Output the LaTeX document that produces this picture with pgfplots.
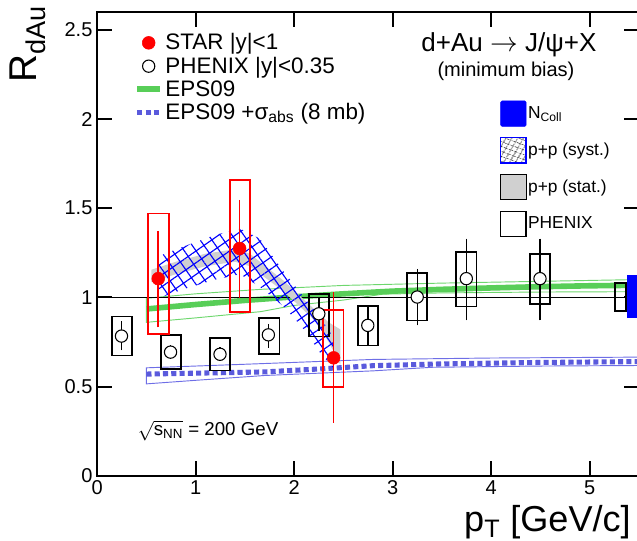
\documentclass[border=0pt]{standalone}
\usepackage{fontspec}
\setmainfont{Liberation Sans}
\usepackage{pgfplots}
\pgfplotsset{compat=1.18}
\usetikzlibrary{patterns.meta}
\definecolor{epsgreen}{RGB}{88,206,88}
\definecolor{epsthin}{RGB}{110,215,110}
\definecolor{absblue}{RGB}{90,90,220}
\definecolor{absthin}{RGB}{110,110,230}
\definecolor{ppgray}{RGB}{208,208,208}
\begin{document}
\begin{tikzpicture}
\begin{axis}[
  scale only axis, width=405.75pt, height=347.25pt,
  xmin=0, xmax=5.5, ymin=0, ymax=2.6,
  xtick={0,1,2,3,4,5}, ytick={0,0.5,1,1.5,2,2.5},
  tick align=inside, major tick length=11pt,
  axis line style={line width=1.5pt},
  every tick/.style={black, line width=1.5pt},
  tick label style={font=\fontsize{15}{16}\selectfont},
  /pgf/number format/assume math mode=true,
  ylabel={R\textsubscript{dAu}},
  ylabel style={font=\fontsize{29}{30}\selectfont, at={(axis description cs:-0.161,1.015)}, anchor=north east, inner sep=0pt},
  xlabel={p\textsubscript{T} [GeV/c]},
  xlabel style={font=\fontsize{27}{28}\selectfont, at={(axis description cs:0.985,-0.063)}, anchor=north east, inner sep=0pt},
  legend style={at={(axis description cs:0.061,0.965)}, anchor=north west, draw=none, fill=none,
    font=\fontsize{16.8}{18}\selectfont, row sep=0pt, nodes={inner sep=1.9pt}},
  legend cell align=left,
]
% legend images
\addlegendimage{only marks, mark=*, mark size=4.8pt, red}
\addlegendentry{STAR |y|<1}
\addlegendimage{only marks, mark=o, mark size=4.6pt, black, line width=0.8pt}
\addlegendentry{PHENIX |y|<0.35}
\addlegendimage{epsgreen, line width=4.2pt}
\addlegendentry{EPS09}
\addlegendimage{absblue, line width=3.8pt, dash pattern=on 3.8pt off 2.4pt}
\addlegendentry{EPS09 +σ\textsubscript{abs} (8 mb)}

% EPS09 band
\addplot[epsthin, line width=0.7pt, forget plot] coordinates {
 (0.5,0.995) (1.0,1.02) (1.66,1.045) (2.5,1.067) (3.5,1.08) (4.5,1.09) (5.5,1.10)
 (5.5,1.032) (4.5,1.03) (3.5,1.025) (2.9,1.018) (2.5,0.985) (2.0,0.955) (1.66,0.92) (1.0,0.885) (0.5,0.86)} -- cycle;
\addplot[epsgreen, line width=4.2pt, forget plot] coordinates {
 (0.5,0.935) (1.0,0.96) (1.5,0.983) (2.0,1.003) (2.5,1.02) (3.0,1.035) (3.5,1.045) (4.0,1.053) (4.5,1.06) (5.0,1.065) (5.5,1.068)};
% EPS09 + sigma_abs band
\addplot[absthin, line width=0.7pt, forget plot] coordinates {
 (0.5,0.605) (1.5,0.625) (2.8,0.652) (4.0,0.66) (5.5,0.665)
 (5.5,0.618) (4.5,0.615) (3.4,0.608) (2.8,0.588) (1.7,0.562) (1.0,0.535) (0.5,0.515)} -- cycle;
\addplot[absblue, line width=3.8pt, dash pattern=on 3.8pt off 2.4pt, forget plot] coordinates {
 (0.5,0.57) (1.0,0.575) (1.7,0.582) (2.3,0.60) (2.8,0.617) (3.5,0.627) (4.5,0.635) (5.5,0.64)};
% y = 1
\addplot[black, line width=1.2pt, forget plot] coordinates {(0,1) (5.5,1)};
% p+p stat band (gray)
\addplot[fill=ppgray, draw=none, forget plot] coordinates {
 (0.55,1.155) (0.8,1.20) (1.1,1.245) (1.4,1.27) (1.55,1.245) (1.9,1.09) (2.23,0.92) (2.35,0.86) (2.47,0.82)
 (2.47,0.62) (2.35,0.75) (2.23,0.86) (1.9,1.03) (1.55,1.175) (1.4,1.20) (1.1,1.175) (0.8,1.13) (0.55,1.085)} -- cycle;
% p+p syst band (hatched)
\addplot[draw=none, pattern={Lines[angle=35,distance=7.2pt,line width=0.85pt]}, pattern color=blue,
  postaction={pattern={Lines[angle=-55,distance=7.2pt,line width=0.85pt]}, pattern color=blue}, forget plot] coordinates {
 (0.62,1.23) (0.9,1.29) (1.2,1.35) (1.45,1.385) (1.65,1.33) (1.9,1.14) (2.1,1.00) (2.25,0.90) (2.4,0.775)
 (2.4,0.60) (2.25,0.70) (2.1,0.82) (1.9,0.945) (1.65,1.06) (1.45,1.13) (1.2,1.10) (0.9,1.05) (0.62,0.995)} -- cycle;

% global boxes
\addplot[fill=blue, draw=none, forget plot] coordinates {(5.375,0.884) (5.5,0.884) (5.5,1.124) (5.375,1.124)} -- cycle;
\addplot[black, line width=1.3pt, forget plot] coordinates {(5.254,0.923) (5.37,0.923) (5.37,1.08) (5.254,1.08)} -- cycle;

% PHENIX syst boxes
\addplot[black, line width=1.3pt, forget plot] coordinates {(0.149,0.674) (0.352,0.674) (0.352,0.893) (0.149,0.893)} -- cycle;
\addplot[black, line width=1.3pt, forget plot] coordinates {(0.647,0.599) (0.850,0.599) (0.850,0.788) (0.647,0.788)} -- cycle;
\addplot[black, line width=1.3pt, forget plot] coordinates {(1.148,0.590) (1.352,0.590) (1.352,0.773) (1.148,0.773)} -- cycle;
\addplot[black, line width=1.3pt, forget plot] coordinates {(1.646,0.684) (1.850,0.684) (1.850,0.884) (1.646,0.884)} -- cycle;
\addplot[black, line width=1.3pt, forget plot] coordinates {(2.147,0.780) (2.350,0.780) (2.350,1.020) (2.147,1.020)} -- cycle;
\addplot[black, line width=1.3pt, forget plot] coordinates {(2.645,0.730) (2.848,0.730) (2.848,0.951) (2.645,0.951)} -- cycle;
\addplot[black, line width=1.3pt, forget plot] coordinates {(3.147,0.871) (3.350,0.871) (3.350,1.137) (3.147,1.137)} -- cycle;
\addplot[black, line width=1.3pt, forget plot] coordinates {(3.646,0.949) (3.850,0.949) (3.850,1.255) (3.646,1.255)} -- cycle;
\addplot[black, line width=1.3pt, forget plot] coordinates {(4.393,0.961) (4.597,0.961) (4.597,1.245) (4.393,1.245)} -- cycle;
% PHENIX points
\addplot[black, only marks, mark=*, mark size=4.6pt, line width=0.8pt,
  mark options={fill=white}, forget plot,
  error bars/.cd, y dir=both, y explicit,
  error bar style={line width=1.1pt, black},
  error mark options={black, line width=1.1pt, mark size=2.4pt}] coordinates {
 (0.247,0.783) += (0,0.065) -= (0,0.062)
 (0.745,0.693) += (0,0.02) -= (0,0.02)
 (1.247,0.681) += (0,0.02) -= (0,0.02)
 (1.738,0.790) += (0,0.043) -= (0,0.054)
 (2.250,0.908) += (0,0.075) -= (0,0.080)
 (2.747,0.843) += (0,0.093) -= (0,0.094)
 (3.249,1.002) += (0,0.140) -= (0,0.141)
 (3.747,1.105) += (0,0.206) -= (0,0.216)
 (4.495,1.105) += (0,0.206) -= (0,0.216)
};

% STAR syst boxes
\addplot[red, line width=1.4pt, forget plot] coordinates {(0.520,0.796) (0.730,0.796) (0.730,1.470) (0.520,1.470)} -- cycle;
\addplot[red, line width=1.4pt, forget plot] coordinates {(1.345,0.917) (1.548,0.917) (1.548,1.657) (1.345,1.657)} -- cycle;
\addplot[red, line width=1.4pt, forget plot] coordinates {(2.290,0.496) (2.500,0.496) (2.500,0.931) (2.290,0.931)} -- cycle;
% STAR points
\addplot[red, only marks, mark=*, mark size=4.8pt, forget plot,
  error bars/.cd, y dir=both, y explicit,
  error bar style={line width=1.2pt, red},
  error mark options={red, line width=1.2pt, mark size=2.2pt}] coordinates {
 (0.620,1.105) += (0,0.252) -= (0,0.257)
 (1.446,1.274) += (0,0.256) -= (0,0.263)
 (2.400,0.661) += (0,0.354) -= (0,0.348)
};

% texts
\node[font=\fontsize{19.5}{20}\selectfont] at (axis cs:4.18,2.416) {d+Au $\rightarrow$ J/ψ+X};
\node[font=\fontsize{15}{16}\selectfont] at (axis cs:4.15,2.27) {(minimum bias)};
\node[font=\fontsize{14}{15}\selectfont, anchor=west, inner sep=0pt] at (axis cs:0.41,0.253)
  {$\sqrt{\mbox{s}_{\mbox{\fontsize{10}{11}\selectfont NN}}}$ = 200 GeV};

\coordinate (BL) at (rel axis cs:-0.1793,-0.1404);
\coordinate (TR) at (rel axis cs:0.9963,1.0259);
\end{axis}

\begin{axis}[
  scale only axis, width=405.75pt, height=347.25pt,
  xmin=0, xmax=5.5, ymin=0, ymax=2.6, hide axis,
  legend style={at={(axis description cs:0.7357,0.815)}, anchor=north west, draw=none, fill=none,
    font=\fontsize{13}{14}\selectfont, row sep=8pt, nodes={inner sep=1pt}},
  legend cell align=left,
  legend image code/.code={\draw[#1] (0pt,-9.5pt) rectangle (19pt,9.5pt);},
]
\addlegendimage{fill=blue, draw=blue, rounded corners=1pt}
\addlegendentry{N\textsubscript{Coll}}
\addlegendimage{draw=blue, line width=1pt, pattern={Lines[angle=60,distance=4pt,line width=0.5pt]}, pattern color=black,
  postaction={pattern={Lines[angle=-20,distance=4pt,line width=0.5pt]}, pattern color=black}}
\addlegendentry{p+p (syst.)}
\addlegendimage{fill=ppgray, draw=none}
\addlegendentry{p+p (stat.)}
\addlegendimage{draw=black, line width=1pt, fill=white}
\addlegendentry{PHENIX}
\end{axis}
\pgfresetboundingbox
\path[use as bounding box] (BL) rectangle (TR);
\end{tikzpicture}
\end{document}
